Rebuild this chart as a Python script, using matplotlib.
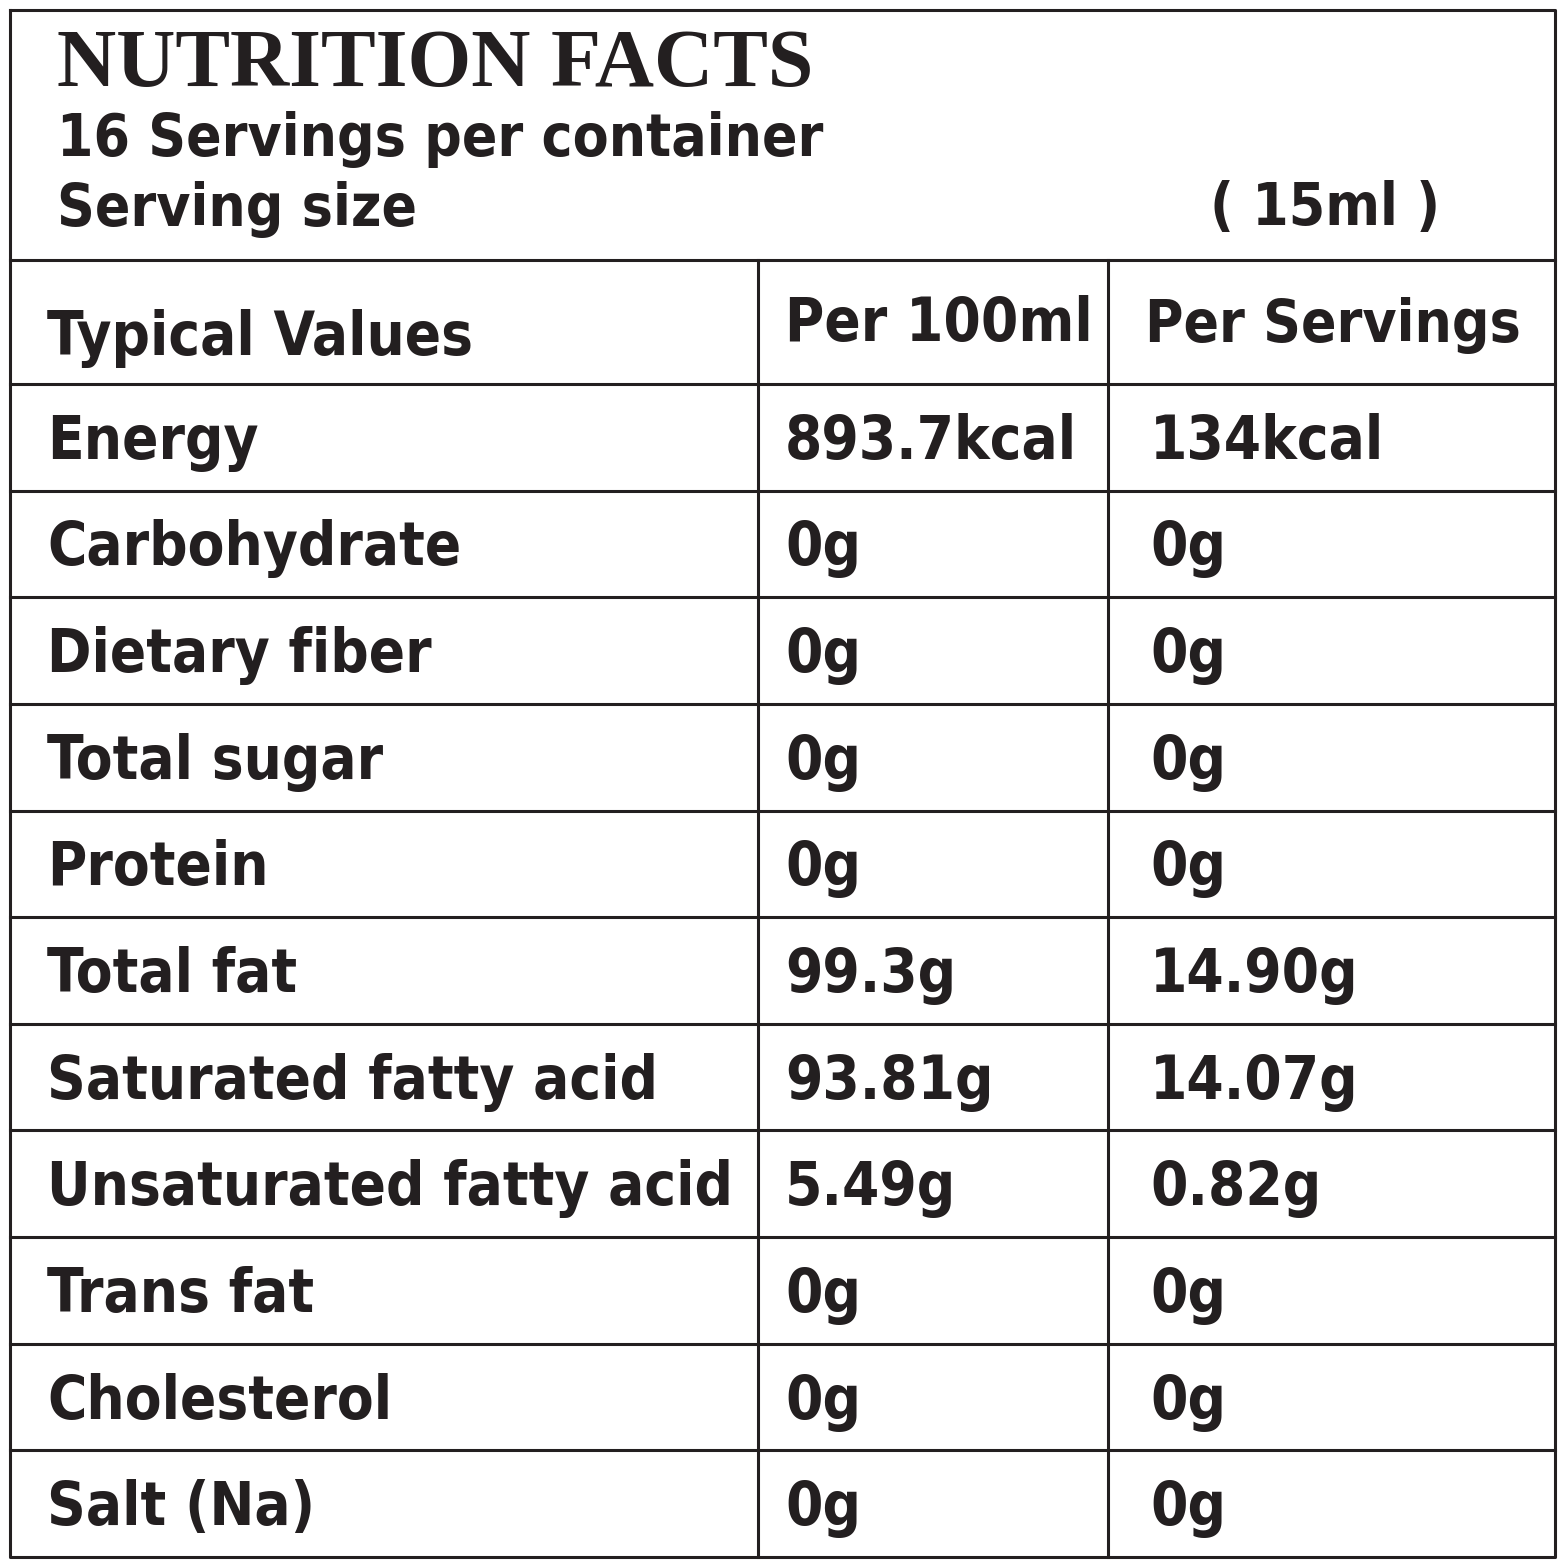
import matplotlib.pyplot as plt

title = "NUTRITION FACTS"
servings = "16 Servings per container"
serving_size = ("Serving size", "( 15ml )")
header = ["Typical Values", "Per 100ml", "Per Servings"]
nutrients = ["Energy", "Carbohydrate", "Dietary fiber", "Total sugar", "Protein",
             "Total fat", "Saturated fatty acid", "Unsaturated fatty acid",
             "Trans fat", "Cholesterol", "Salt (Na)"]
per_100ml = ["893.7kcal", "0g", "0g", "0g", "0g", "99.3g", "93.81g", "5.49g",
             "0g", "0g", "0g"]
per_serving = ["134kcal", "0g", "0g", "0g", "0g", "14.90g", "14.07g", "0.82g",
               "0g", "0g", "0g"]

W, H = 1561, 1564
fig = plt.figure(figsize=(W / 100, H / 100), dpi=100)
ax = fig.add_axes([0, 0, 1, 1])
ax.set_xlim(0, W)
ax.set_ylim(H, 0)
ax.axis("off")

ink = "#231f20"
lw = 2.2
left, right, top, bottom = 10, 1555, 10, 1557
col1, col2 = 758, 1108
head_bottom = 260
hdr_bottom = 384
row_h = (bottom - hdr_bottom) / len(nutrients)

# outer box and header separator
ax.plot([left, right, right, left, left], [top, top, bottom, bottom, top], color=ink, lw=lw)
ax.plot([left, right], [head_bottom, head_bottom], color=ink, lw=lw)
ax.plot([left, right], [hdr_bottom, hdr_bottom], color=ink, lw=lw)
for x in (col1, col2):
    ax.plot([x, x], [head_bottom, bottom], color=ink, lw=lw)
for i in range(1, len(nutrients)):
    y = hdr_bottom + i * row_h
    ax.plot([left, right], [y, y], color=ink, lw=lw)

sans = dict(family="DejaVu Sans", stretch="condensed", weight="bold", color=ink)

ax.text(57, 66, title, fontsize=59, family="Liberation Serif", weight="bold",
        color=ink, va="center")
ax.text(57, 140, servings, fontsize=42, va="center", **sans)
ax.text(57, 209, serving_size[0], fontsize=42, va="center", **sans)
ax.text(1440, 209, serving_size[1], fontsize=42, va="center", ha="right", **sans)

ax.text(47, 338, header[0], fontsize=43, va="center", **sans)
ax.text(785, 325, header[1], fontsize=43, va="center", **sans)
ax.text(1145, 325, header[2], fontsize=42, va="center", **sans)

for i, (n, a, b) in enumerate(zip(nutrients, per_100ml, per_serving)):
    y = hdr_bottom + (i + 0.5) * row_h + 5
    ax.text(47, y, n, fontsize=43, va="center", **sans)
    ax.text(785, y, a, fontsize=43, va="center", **sans)
    ax.text(1150, y, b, fontsize=43, va="center", **sans)

fig.savefig("out.png", dpi=100, facecolor="white")
